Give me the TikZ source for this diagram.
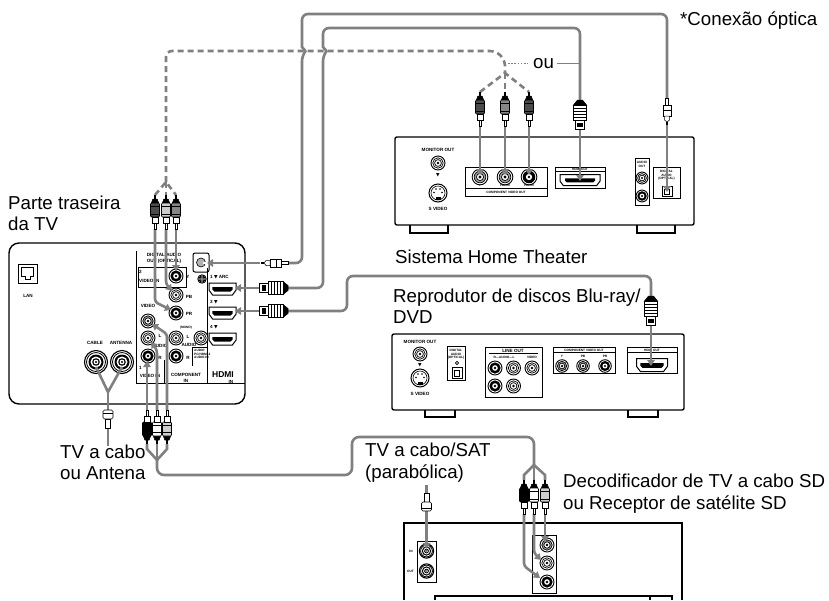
\documentclass[tikz,border=0pt]{standalone}
\usepackage{fontspec}
\setmainfont{Liberation Sans}
\newfontfamily\dejavu{DejaVu Sans}
\usetikzlibrary{arrows.meta}
\definecolor{cab}{RGB}{128,128,128}
\definecolor{pdark}{RGB}{75,75,75}
\definecolor{pmid}{RGB}{135,135,135}
\definecolor{plight}{RGB}{205,205,205}

% RCA plug: cable end at (#1,#2), fill #3, direction #4 (1 = tip down, -1 = tip up)
\newcommand\rcap[4]{%
\begin{scope}[shift={(#1,#2)},yscale=#4]
 \fill[black] (-1.3,0) rectangle (1.3,4);
 \filldraw[fill=black,draw=black,line width=0.5pt] (-2.2,4) -- (2.2,4) -- (3.6,8) -- (-3.6,8) -- cycle;
 \filldraw[fill=#3,draw=black,line width=0.6pt,rounded corners=1pt] (-4.5,8) rectangle (4.5,22);
 \draw[line width=0.5pt] (-4.5,11.5) -- (4.5,11.5);
 \draw[line width=0.5pt] (-4.5,19) -- (4.5,19);
 \filldraw[fill=white,draw=black,line width=0.6pt] (-3,22) rectangle (3,28);
 \filldraw[fill=white,draw=black,line width=0.5pt] (-1.2,28) rectangle (1.2,34);
\end{scope}}
% HDMI plug: cable end at (#1,#2), rotation #3 (0 = tip down, -90 = tip left)
\newcommand\hdmip[3]{%
\begin{scope}[shift={(#1,#2)},rotate=#3]
 \filldraw[fill=black,draw=black,line width=0.5pt] (-2.5,0) -- (2.5,0) -- (6.5,5) -- (-6.5,5) -- cycle;
 \filldraw[fill=white,draw=black,line width=0.7pt] (-6.5,5) rectangle (6.5,20);
 \foreach \yy in {8,11,14,17} \draw[line width=0.6pt] (-6.5,\yy) -- (6.5,\yy);
 \filldraw[fill=white,draw=black,line width=0.8pt] (-4.8,20) rectangle (4.8,29);
 \fill[black] (-3,22.5) rectangle (3,26.5);
\end{scope}}
% optical plug
\newcommand\optp[3]{%
\begin{scope}[shift={(#1,#2)},rotate=#3]
 \filldraw[fill=white,draw=black,line width=0.5pt] (-1.5,0) rectangle (1.5,7);
 \filldraw[fill=white,draw=black,line width=0.6pt] (-4,7) rectangle (4,18);
 \draw[line width=0.5pt] (-4,12) -- (4,12);
 \filldraw[fill=white,draw=black,line width=0.5pt] (-2.5,18) -- (2.5,18) -- (2.5,22) -- (0,24) -- (-2.5,22) -- cycle;
 \fill (-0.7,24) rectangle (0.7,27);
\end{scope}}
% coax plug
\newcommand\coaxp[3]{%
\begin{scope}[shift={(#1,#2)},yscale=#3]
 \filldraw[fill=white,draw=black,line width=0.6pt] (-2.5,0) rectangle (2.5,9);
 \filldraw[fill=white,draw=black,line width=0.6pt,rounded corners=1.5pt] (-5,9) rectangle (5,18);
 \draw[line width=0.5pt] (-5,15) -- (5,15);
\end{scope}}
% jacks
\newcommand\jackw[3][1]{%
\begin{scope}[shift={(#2,#3)},scale=#1]
 \filldraw[fill=white,draw=black,line width=0.9pt] (0,0) circle[radius=7];
 \draw[line width=0.7pt] (0,0) circle[radius=5.2];
 \draw[line width=0.7pt] (0,0) circle[radius=3.4];
 \fill (0,0) circle[radius=1.4];
\end{scope}}
\newcommand\jackb[3][1]{%
\begin{scope}[shift={(#2,#3)},scale=#1]
 \filldraw[fill=white,draw=black,line width=0.9pt] (0,0) circle[radius=7];
 \fill (0,0) circle[radius=5.6];
 \fill[white] (0,0) circle[radius=2.8];
 \fill (0,0) circle[radius=1.3];
\end{scope}}
\newcommand\jackg[3][1]{%
\begin{scope}[shift={(#2,#3)},scale=#1]
 \filldraw[fill=white,draw=black,line width=0.9pt] (0,0) circle[radius=7];
 \filldraw[fill=gray!75,draw=black,line width=0.7pt] (0,0) circle[radius=5.2];
 \filldraw[fill=white,draw=black,line width=0.7pt] (0,0) circle[radius=3.2];
 \fill (0,0) circle[radius=1.4];
\end{scope}}
\newcommand\coaxj[3][1]{%
\begin{scope}[shift={(#2,#3)},scale=#1]
 \filldraw[fill=white,draw=black,line width=1.1pt] (0,0) circle[radius=11.5];
 \draw[line width=0.8pt] (0,0) circle[radius=9.5];
 \fill (0,0) circle[radius=7.5];
 \fill[white] (0,0) circle[radius=5.5];
 \fill (0,0) circle[radius=3.8];
 \fill[white] (0,0) circle[radius=2.4];
 \fill (0,0) circle[radius=1.1];
\end{scope}}
\newcommand\svid[2]{%
\begin{scope}[shift={(#1,#2)}]
 \filldraw[fill=white,draw=black,line width=1pt] (0,0) circle[radius=9];
 \draw[line width=0.6pt] (0,0) circle[radius=7];
 \fill (-2.5,3.5) rectangle (2.5,6.5);
 \foreach \p in {(-4,-0.5),(4,-0.5),(-2,-4),(2,-4)} \fill \p circle[radius=0.9];
\end{scope}}
% HDMI receptacle: centre, half width, half height
\newcommand\hport[4]{%
\begin{scope}[shift={(#1,#2)}]
 \filldraw[fill=white,draw=black,line width=1pt] (-#3,-#4) -- (#3,-#4) -- (#3,0.2*#4) -- (#3-0.6*#4,#4) -- (-#3+0.6*#4,#4) -- (-#3,0.2*#4) -- cycle;
 \fill[black] (-0.75*#3,-0.3*#4) -- (0.75*#3,-0.3*#4) -- (0.75*#3,0.1*#4) -- (0.75*#3-0.35*#4,0.45*#4) -- (-0.75*#3+0.35*#4,0.45*#4) -- (-0.75*#3,0.1*#4) -- cycle;
\end{scope}}

\begin{document}
\begin{tikzpicture}[x=1pt,y=-1pt,
 cable/.style={draw=cab,line width=2.6pt,rounded corners=6pt},
 dcable/.style={cable,dash pattern=on 6pt off 4pt},
 arr/.style={draw=cab,line width=2.6pt,rounded corners=3pt,-{Triangle[length=6pt,width=7.5pt]}},
 lbl/.style={font=\fontsize{18.7}{21}\selectfont,anchor=base west,inner sep=0pt},
 mini/.style={font=\fontsize{4.6}{5}\selectfont\bfseries,inner sep=0pt},
 micro/.style={font=\fontsize{3.2}{3.6}\selectfont\bfseries,inner sep=0pt},
 devbox/.style={draw=black,line width=1.4pt},
 pbox/.style={draw=black,line width=0.8pt}]
\useasboundingbox (0,0) rectangle (829,600);
\fill[white] (0,0) rectangle (829,600);

% ================= TV back panel =================
\draw[devbox,rounded corners=10pt] (9,243) rectangle (245,404);
% LAN
\draw[pbox,line width=1pt] (18,264) rectangle (37,283);
\draw[pbox] (21.5,267.5) -- (33.5,267.5) -- (33.5,276.5) -- (30,276.5) -- (30,279) -- (25,279) -- (25,276.5) -- (21.5,276.5) -- cycle;
\node[mini] (lan) at (28,296) {LAN};
% antenna inputs
\node[mini] (cbl) at (95,343) {CABLE};
\node[mini] (ant) at (121,343) {ANTENNA};
\coaxj{96}{362}
\coaxj{122}{362}
% section lines
\draw[pbox] (136,251) -- (136,383) -- (245,383);
\draw[pbox] (164,360) -- (164,383);
\draw[pbox] (207,268) -- (207,383);
\draw[pbox] (192,366) -- (192,347) -- (207,347);
\draw[pbox] (138,267) rectangle (186,287);
\node[mini] (dao1) at (164,255) {DIGITAL AUDIO};
\node[mini] (dao2) at (164,261) {OUT (OPTICAL)};
\node[mini,anchor=west] (v2a) at (139,272) {2};
\node[mini,anchor=west] (v2b) at (139,281) {VIDEO IN};
\node[mini] (vlab) at (148,306) {VIDEO};
\node[mini] (lY) at (188,277) {Y};
\node[mini] (lPb) at (189,297) {PB};
\node[mini] (lPr) at (189,314) {PR};
\node[mini] (lL1) at (160,336) {L};
\node[mini] (lA1) at (160,346) {AUDIO};
\node[mini] (lR1) at (160,358) {R};
\node[micro] (mono) at (186,328) {(MONO)};
\node[mini] (lL2) at (188,337) {L};
\node[mini] (lA2) at (189,345) {AUDIO};
\node[mini] (lR2) at (188,358) {R};
\node[mini,anchor=west] (one) at (139,368) {1};
\node[mini] (vin) at (150,376) {VIDEO IN};
\node[mini] (cin1) at (186,375) {COMPONENT};
\node[mini] (cin2) at (186,381) {IN};
\node[micro,align=left,anchor=north west] (pca) at (194,349) {AUDIO\\PC/HDMI 4\\AUDIO IN};
% jacks
\jackb{176}{276}
\jackw{176}{295}
\jackb{176}{313}
\jackg{148}{321}
\jackw{148}{338}
\jackb{148}{356}
\jackw{176}{338}
\jackb{176}{356}
\jackw{201}{338}
\jackw[0.6]{202}{279}
% optical out
\draw[pbox,line width=1pt,rounded corners=2pt] (193,253) rectangle (209,272);
\filldraw[fill=gray!60,draw=black,line width=0.6pt] (201,262.5) circle[radius=4.5];
\fill[white] (202.5,261.5) rectangle (206,263.5);
% HDMI in
\node[mini,anchor=west] (h1) at (210,277) {1 {\dejavu▼} ARC};
\node[mini,anchor=west] (h3) at (210,302) {3 {\dejavu▼}};
\node[mini,anchor=west] (h4) at (210,327) {4 {\dejavu▼}};
\hport{222.5}{289}{13.5}{6}
\hport{222.5}{313}{13.5}{6}
\hport{222.5}{339}{13.5}{6}
\node[font=\fontsize{8.5}{9}\selectfont\bfseries,inner sep=0pt] (hdmilogo) at (223,375) {HDMI};
\node[mini] (hin) at (231,381.5) {IN};

% ================= Home theater =================
\draw[devbox,rounded corners=2pt] (395,137) rectangle (694,225);
\draw[line width=1.1pt] (410,225) -- (410,233) -- (448,233) -- (448,225);
\draw[line width=1.1pt] (637,225) -- (637,233) -- (675,233) -- (675,225);
\node[mini] (mo1) at (438,150) {MONITOR OUT};
\jackw{438}{163}
\node[mini] (tri1) at (438,175.5) {\dejavu▼};
\svid{438}{193}
\node[mini] (sv1) at (438,209) {S VIDEO};
\draw[pbox] (465,167) rectangle (547,196);
\draw[pbox] (465,188.5) -- (547,188.5);
\node[micro] (cvo1) at (506,192.3) {COMPONENT VIDEO OUT};
\node[micro] (y1) at (480,185.5) {Y};
\node[micro] (pb1) at (505,185.5) {PB/CB};
\node[micro] (pr1) at (529,185.5) {PR/CR};
\jackg[1.12]{480}{177}
\jackg[1.12]{505}{177}
\jackb[1.12]{529}{177}
\draw[pbox] (555,167) rectangle (605,188);
\draw[pbox] (555,171.8) -- (605,171.8);
\node[micro] (ho1) at (580,169.5) {HDMI OUT};
\hport{580}{180}{20}{5.5}
\draw[pbox] (635,158) rectangle (649,205);
\node[micro] (ao1) at (642,162) {AUDIO};
\node[micro] (ao2) at (642,166) {OUT};
\jackw[0.85]{642}{178}
\jackb[0.85]{642}{196}
\draw[pbox] (653,167) rectangle (680,198);
\node[micro] (da1) at (666.5,171) {DIGITAL};
\node[micro] (da2) at (666.5,175) {AUDIO};
\node[micro] (da3) at (666.5,179) {(OPTICAL)};
\draw[pbox,line width=1pt] (662,186) rectangle (672,196);
\draw[pbox] (664.5,189) rectangle (669.5,194);

% ================= Blu-ray =================
\draw[devbox,rounded corners=2pt] (392,334) rectangle (684,410);
\draw[line width=1.1pt] (425,410) -- (425,417) -- (455,417) -- (455,410);
\draw[line width=1.1pt] (628,410) -- (628,417) -- (658,417) -- (658,410);
\node[mini] (mo2) at (420,341.5) {MONITOR OUT};
\jackw{420}{354}
\node[mini] (tri2) at (420,365.5) {\dejavu▼};
\svid{420}{378}
\node[mini] (sv2) at (420,393.5) {S VIDEO};
\draw[pbox] (447,346) rectangle (465,380);
\node[micro] (db1) at (456,350) {DIGITAL};
\node[micro] (db2) at (456,354) {AUDIO};
\node[micro] (db3) at (456,358) {(OPTICAL)};
\draw[line width=0.6pt] (457,363) circle[radius=1.6];
\draw[pbox,line width=1pt] (452,367) rectangle (462,378);
\draw[pbox] (454.5,370) rectangle (459.5,376);
\draw[pbox] (485,347) rectangle (542,397);
\node[mini] (lo) at (513,350.5) {LINE OUT};
\draw[pbox] (489,353.3) -- (538,353.3);
\node[micro] (rl) at (504,357) {R—AUDIO—L};
\node[micro] (vid2) at (532,357) {VIDEO};
\jackb{495}{368}
\jackw{513.5}{368}
\jackw{532}{368}
\jackb{495}{386}
\jackw{513.5}{386}
\draw[pbox] (553,347) rectangle (615,373);
\draw[pbox] (553,352.8) -- (615,352.8);
\node[micro] (cvo2) at (584,350) {COMPONENT VIDEO OUT};
\node[micro] (y2) at (562,356.3) {Y};
\node[micro] (pb2) at (583,356.3) {PB};
\node[micro] (pr2) at (605,356.3) {PR};
\jackg[0.9]{562}{366}
\jackg[0.9]{583}{366}
\jackb[0.9]{605}{366}
\draw[pbox] (627,347) rectangle (677,373);
\draw[pbox] (627,352.8) -- (677,352.8);
\node[micro] (ho2) at (652,350) {HDMI OUT};
\hport{652}{365}{15.5}{6.5}

% ================= Decoder =================
\draw[devbox] (404,600) -- (404,523) -- (682,523) -- (682,600);
\draw[line width=1.1pt] (435,600) -- (435,596) -- (672,596) -- (672,600);
\draw[line width=1.1pt] (650,596) -- (650,600);
\draw[pbox] (417,541) rectangle (436,582);
\node[micro] (din) at (411,551) {IN};
\node[micro] (dout) at (410.5,571) {OUT};
\coaxj[0.62]{426.5}{551}
\coaxj[0.62]{426.5}{571}
\draw[pbox] (532,535) rectangle (556,593);
\jackg{547}{545}
\jackw{547}{563}
\jackb{547}{582}

% ================= Cables =================
% optical TV -> HT
\draw[cable] (288,263) -- (302,263) -- (302,55) [sharp corners] -- (305.5,51) -- (302,47) [rounded corners=6pt] -- (302,14) -- (667,14) -- (667,98);
% HDMI ARC TV -> HT
\draw[cable] (288,288) -- (323,288) -- (323,55) [sharp corners] -- (326.5,51) -- (323,47) [rounded corners=6pt] -- (323,28) -- (580,28) -- (580,100);
% HDMI 3 TV -> Blu-ray
\draw[cable] (288,311) -- (347,311) -- (347,276) -- (651,276) -- (651,296);
% component (dashed) TV -> HT
\draw[dcable] (166,182) -- (166,51) -- (496,51) -- (505,60) -- (505,73);
\draw[dcable,rounded corners=0pt] (155,195) -- (166,182) -- (176,195);
\draw[dcable,rounded corners=0pt] (166,182) -- (166,195);
\draw[dcable,rounded corners=0pt] (480,92) -- (505,73) -- (529,92);
\draw[dcable,rounded corners=0pt] (505,73) -- (505,92);
\draw[draw=cab,line width=1.3pt,dash pattern=on 1.6pt off 1.6pt] (508,63.5) -- (528,63.5);
\node[lbl] (ou) at (533,68) {ou};
\draw[draw=cab,line width=1.4pt] (557,63.5) -- (580,63.5);
% component TV in -> decoder
\draw[cable,rounded corners=7pt] (157,460) -- (157,475) -- (352,475) -- (352,437) -- (534,437) -- (534,465);
\draw[cable,rounded corners=0pt] (147,444) -- (147,449) -- (157,460) -- (167,449) -- (167,444);
\draw[cable,rounded corners=0pt] (157,444) -- (157,460);
\draw[cable,rounded corners=0pt] (524,480) -- (524,475) -- (534,465) -- (545,475) -- (545,480);
\draw[cable,rounded corners=0pt] (534,465) -- (534,480);
% antenna
\draw[cable,rounded corners=0pt] (96,367) -- (108,392) -- (122,367);
\draw[cable,rounded corners=0pt] (108,392) -- (108,410);
\draw[cable,rounded corners=0pt] (108,428) -- (108,446);
\draw[cable,rounded corners=0pt] (426.5,485) -- (426.5,493);

% arrows into jacks
\draw[arr] (176,229) -- (176,271);
\draw[arr] (166,229) -- (166,284) -- (172,291);
\draw[arr] (155,229) -- (155,302) -- (171,310);
\draw[arr] (147,410) -- (147,361);
\draw[arr] (157,410) -- (157,350) -- (151,342);
\draw[arr] (167,410) -- (167,334) -- (152,324);
\draw[arr] (260,263) -- (207,263);
\draw[arr] (259,288) -- (235,288);
\draw[arr] (259,311) -- (235,311);
\draw[arr] (480,127) -- (480,175);
\draw[arr] (505,127) -- (505,175);
\draw[arr] (529,127) -- (529,175);
\draw[arr] (580,129) -- (580,181);
\draw[arr] (667,125) -- (667,192);
\draw[arr] (651,325) -- (651,366);
\draw[arr] (426.5,511) -- (426.5,549);
\draw[arr] (545,514) -- (545,542);
\draw[arr] (534,514) -- (534,553) -- (541,560);
\draw[arr] (524,514) -- (524,566) -- (540,578);

% plugs
\rcap{155}{195}{pdark}{1}
\rcap{166}{195}{plight}{1}
\rcap{176}{195}{pmid}{1}
\rcap{147}{444}{black}{-1}
\rcap{157}{444}{white}{-1}
\rcap{167}{444}{plight}{-1}
\rcap{480}{92}{pdark}{1}
\rcap{505}{92}{pmid}{1}
\rcap{529}{92}{pdark}{1}
\rcap{524}{480}{black}{1}
\rcap{534}{480}{white}{1}
\rcap{545}{480}{plight}{1}
\hdmip{580}{100}{0}
\hdmip{651}{296}{0}
\hdmip{288}{288}{-90}
\hdmip{288}{311}{-90}
\optp{667}{98}{0}
\optp{288}{263}{-90}
\coaxp{108}{428}{-1}
\coaxp{426.5}{493}{1}

% ================= Labels =================
\node[lbl] (conx) at (680,25) {*Conexão óptica};
\node[lbl] (tv1) at (8,209) {Parte traseira};
\node[lbl] (tv2) at (8,230) {da TV};
\node[lbl] (ht) at (395,263) {Sistema Home Theater};
\node[lbl] (br1) at (393,302) {Reprodutor de discos Blu-ray/};
\node[lbl] (br2) at (393,323) {DVD};
\node[lbl] (sat1) at (365,456) {TV a cabo/SAT};
\node[lbl] (sat2) at (365,478) {(parabólica)};
\node[lbl] (dec1) at (563,487) {Decodificador de TV a cabo SD};
\node[lbl] (dec2) at (563,509) {ou Receptor de satélite SD};
\node[lbl] (ca1) at (60,458) {TV a cabo};
\node[lbl] (ca2) at (60,479) {ou Antena};
\end{tikzpicture}
\end{document}
